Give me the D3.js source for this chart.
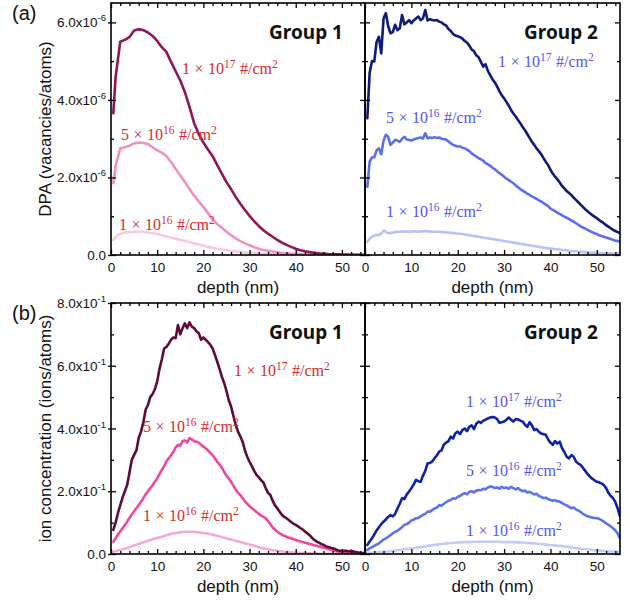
<!DOCTYPE html>
<html><head><meta charset="utf-8">
<script src="https://cdn.jsdelivr.net/npm/d3@7"></script>
<style>body{margin:0;background:#fff}</style>
</head><body>
<svg id="chart" width="630" height="603"></svg>
<script>
// ---------- DATA ----------
// depth grid (nm) for group 1 DPA curves
const depthA = [0.5,1,2,3,4,5,6,7,8,9,10,11,12,13,14,15,16,17,18,19,20,21,22,23,24,25,26,27,28,29,30,
  31,32,33,34,35,36,37,38,39,40,41,42,43,44,45,46,47,48,49,50,51,52,53,54,55];
// depth grid (nm) for the other curves
const depthB = [0.5,1,1.5,2,2.5,3,3.5,4,4.5,5, 5.5,6,6.5,7,7.5,8,8.5,9,9.5,10,
  10.5,11,11.5,12,12.5,13,13.5,14,14.5,15, 15.5,16,16.5,17,17.5,18,18.5,19,19.5,20,
  20.5,21,21.5,22,22.5,23,23.5,24,24.5,25, 25.5,26,26.5,27,27.5,28,28.5,29,29.5,30,
  30.5,31,31.5,32,32.5,33,33.5,34,34.5,35, 35.5,36,36.5,37,37.5,38,38.5,39,39.5,40,
  40.5,41,41.5,42,42.5,43,43.5,44,44.5,45, 45.5,46,46.5,47,47.5,48,48.5,49,49.5,50,
  50.5,51,51.5,52,52.5,53,53.5,54,54.5,55];

// (a) DPA, in units of 1e-6 vacancies/atom
const dpaG1_1e17 = [3.66,4.6,5.5,5.55,5.62,5.79,5.82,5.8,5.74,5.65,5.52,5.36,5.24,4.98,4.74,4.5,4.2,3.82,3.4,3.12,2.9,
  2.72,2.55,2.32,2.1,1.88,1.7,1.5,1.32,1.16,1.01,0.87,0.75,0.64,0.55,0.47,0.39,0.32,0.26,0.21,0.16,
  0.12,0.095,0.075,0.06,0.045,0.035,0.025,0.02,0.015,0.012,0.01,0.008,0.006,0.005,0.004];
const dpaG1_5e16 = [1.85,2.3,2.75,2.78,2.82,2.88,2.9,2.89,2.86,2.78,2.7,2.64,2.55,2.4,2.22,2.05,1.88,1.7,1.53,1.38,1.24,
  1.08,0.92,0.8,0.7,0.6,0.51,0.43,0.36,0.3,0.25,0.2,0.16,0.13,0.11,0.09,0.07,0.055,0.045,0.035,0.028,
  0.022,0.017,0.013,0.01,0.008,0.006,0.005,0.004,0.003,0.003,0.002,0.002,0.002,0.001,0.001];
const dpaG1_1e16 = [0.39,0.47,0.55,0.58,0.59,0.6,0.6,0.6,0.58,0.56,0.54,0.51,0.48,0.45,0.42,0.39,0.36,0.33,0.3,0.27,0.24,
  0.21,0.19,0.16,0.14,0.12,0.105,0.09,0.08,0.068,0.058,0.048,0.04,0.033,0.027,0.022,0.018,0.014,0.011,0.009,0.007,
  0.006,0.005,0.004,0.003,0.003,0.002,0.002,0.002,0.001,0.001,0.001,0.001,0.001,0.001,0.001];

const dpaG2_1e17 = [3.53,4.7,5.0,4.99,5.5,5.63,5.2,6.1,6.24,5.9,
  5.72,5.75,5.94,5.8,5.85,6.19,5.95,6.0,6.06,5.98,
  6.05,6.1,6.15,6.06,6.1,6.32,6.05,6.08,6.06,6.05,
  6.06,6.02,6.0,5.95,5.92,5.83,5.78,5.7,5.66,5.64,
  5.62,5.58,5.52,5.48,5.4,5.3,5.26,5.15,5.1,4.98,
  4.86,4.92,4.75,4.64,4.53,4.45,4.35,4.22,4.12,4.04,
  3.95,3.85,3.74,3.65,3.57,3.48,3.4,3.3,3.22,3.12,
  3.02,2.92,2.84,2.75,2.68,2.6,2.5,2.4,2.32,2.2,
  2.1,2.02,1.95,1.87,1.78,1.72,1.65,1.6,1.55,1.48,
  1.42,1.36,1.3,1.24,1.18,1.13,1.08,1.03,0.99,0.95,
  0.9,0.86,0.82,0.77,0.73,0.69,0.65,0.62,0.59,0.56];
const dpaG2_5e16 = [1.76,2.4,2.52,2.52,2.7,2.75,2.6,2.95,3.1,3.05,
  2.84,2.9,2.97,2.95,2.92,3.0,3.05,2.98,2.97,2.95,
  2.98,3.0,3.02,3.03,3.0,3.14,3.01,3.03,3.02,3.04,
  3.02,3.03,3.0,2.99,2.97,2.93,2.88,2.84,2.82,2.8,
  2.8,2.77,2.75,2.72,2.68,2.62,2.58,2.54,2.5,2.47,
  2.43,2.37,2.34,2.3,2.25,2.21,2.16,2.11,2.07,2.02,
  1.97,1.93,1.89,1.85,1.8,1.75,1.7,1.66,1.62,1.58,
  1.55,1.51,1.48,1.45,1.41,1.38,1.34,1.3,1.26,1.2,
  1.16,1.13,1.09,1.06,1.02,0.99,0.96,0.93,0.89,0.86,
  0.82,0.78,0.74,0.71,0.68,0.65,0.62,0.59,0.56,0.54,
  0.51,0.49,0.47,0.45,0.43,0.41,0.39,0.37,0.36,0.34];
const dpaG2_1e16 = [0.34,0.42,0.47,0.5,0.52,0.52,0.55,0.63,0.6,0.56,
  0.57,0.58,0.59,0.6,0.6,0.61,0.6,0.61,0.6,0.61,
  0.61,0.61,0.6,0.61,0.61,0.62,0.61,0.61,0.6,0.6,
  0.6,0.6,0.59,0.59,0.58,0.58,0.57,0.57,0.56,0.55,
  0.55,0.54,0.53,0.52,0.51,0.5,0.49,0.48,0.47,0.46,
  0.45,0.44,0.43,0.42,0.41,0.4,0.39,0.38,0.37,0.36,
  0.35,0.34,0.33,0.32,0.31,0.3,0.29,0.28,0.27,0.26,
  0.25,0.24,0.23,0.22,0.21,0.2,0.19,0.18,0.17,0.165,
  0.16,0.15,0.145,0.14,0.13,0.125,0.12,0.11,0.105,0.1,
  0.095,0.09,0.085,0.08,0.075,0.07,0.065,0.06,0.058,0.055,
  0.052,0.05,0.048,0.046,0.044,0.042,0.04,0.038,0.036,0.035];

// (b) ion concentration, ions/atom
const ionG1_1e17 = [0.077,0.1,0.13,0.156,0.18,0.2,0.22,0.26,0.3,0.316,
  0.33,0.37,0.39,0.42,0.46,0.475,0.5,0.51,0.525,0.55,
  0.59,0.62,0.655,0.66,0.67,0.683,0.69,0.688,0.73,0.70,
  0.72,0.735,0.72,0.738,0.725,0.72,0.71,0.704,0.683,0.69,
  0.683,0.675,0.667,0.655,0.635,0.613,0.59,0.565,0.545,0.52,
  0.49,0.47,0.44,0.411,0.39,0.375,0.358,0.33,0.31,0.294,
  0.28,0.265,0.252,0.245,0.235,0.228,0.21,0.195,0.188,0.17,
  0.155,0.146,0.135,0.125,0.118,0.114,0.108,0.102,0.097,0.093,
  0.088,0.083,0.078,0.072,0.066,0.06,0.052,0.045,0.04,0.036,
  0.032,0.029,0.025,0.022,0.02,0.018,0.016,0.012,0.01,0.01,
  0.01,0.01,0.008,0.01,0.008,0.006,0.005,0.004,0.003,0.002];
const ionG1_5e16 = [0.039,0.05,0.062,0.072,0.082,0.092,0.103,0.115,0.126,0.136,
  0.146,0.156,0.167,0.178,0.19,0.2,0.21,0.22,0.23,0.242,
  0.255,0.268,0.28,0.295,0.305,0.315,0.325,0.34,0.348,0.345,
  0.36,0.362,0.355,0.369,0.365,0.36,0.358,0.355,0.348,0.342,
  0.337,0.33,0.322,0.315,0.305,0.294,0.285,0.275,0.262,0.25,
  0.241,0.23,0.218,0.205,0.195,0.188,0.178,0.168,0.16,0.152,
  0.146,0.14,0.134,0.128,0.122,0.118,0.114,0.105,0.095,0.085,
  0.078,0.071,0.066,0.062,0.058,0.055,0.052,0.05,0.047,0.045,
  0.042,0.04,0.038,0.036,0.034,0.032,0.03,0.028,0.026,0.024,
  0.022,0.02,0.018,0.016,0.014,0.012,0.01,0.008,0.007,0.006,
  0.005,0.005,0.004,0.004,0.003,0.003,0.003,0.002,0.002,0.002];
const ionG1_1e16 = [0.007,0.009,0.011,0.013,0.015,0.017,0.019,0.022,0.025,0.027,
  0.03,0.032,0.035,0.037,0.04,0.042,0.045,0.047,0.049,0.051,
  0.053,0.055,0.057,0.06,0.062,0.064,0.066,0.067,0.068,0.069,
  0.07,0.071,0.071,0.071,0.071,0.07,0.07,0.069,0.068,0.067,
  0.066,0.065,0.063,0.062,0.06,0.058,0.056,0.054,0.052,0.05,
  0.048,0.046,0.044,0.042,0.04,0.038,0.036,0.034,0.032,0.03,
  0.028,0.026,0.024,0.022,0.02,0.018,0.017,0.015,0.014,0.012,
  0.011,0.01,0.009,0.008,0.007,0.006,0.006,0.005,0.005,0.004,
  0.004,0.003,0.003,0.003,0.002,0.002,0.002,0.002,0.002,0.001,
  0.001,0.001,0.001,0.001,0.001,0.001,0.001,0.001,0.001,0.001,
  0.001,0.001,0.001,0.001,0.001,0.001,0.001,0.001,0.001,0.001];

const ionG2_1e17 = [0.029,0.04,0.05,0.062,0.075,0.085,0.095,0.103,0.11,0.118,
  0.124,0.12,0.128,0.145,0.16,0.178,0.175,0.19,0.199,0.21,
  0.222,0.236,0.232,0.23,0.25,0.265,0.289,0.29,0.295,0.305,
  0.315,0.326,0.33,0.348,0.355,0.36,0.374,0.368,0.385,0.39,
  0.382,0.395,0.40,0.392,0.405,0.41,0.398,0.415,0.422,0.418,
  0.425,0.428,0.432,0.435,0.437,0.435,0.43,0.418,0.42,0.422,
  0.428,0.435,0.428,0.422,0.43,0.429,0.425,0.422,0.412,0.405,
  0.42,0.41,0.395,0.398,0.39,0.384,0.382,0.38,0.365,0.355,
  0.348,0.36,0.352,0.358,0.337,0.325,0.31,0.305,0.315,0.31,
  0.295,0.288,0.284,0.275,0.265,0.255,0.247,0.24,0.235,0.23,
  0.228,0.225,0.22,0.21,0.195,0.185,0.178,0.165,0.145,0.12];
const ionG2_5e16 = [0.013,0.018,0.022,0.026,0.03,0.034,0.04,0.046,0.05,0.055,
  0.06,0.066,0.071,0.074,0.08,0.086,0.093,0.095,0.1,0.107,
  0.11,0.114,0.115,0.12,0.125,0.128,0.135,0.135,0.14,0.145,
  0.148,0.156,0.154,0.16,0.165,0.17,0.172,0.178,0.176,0.182,
  0.185,0.19,0.194,0.19,0.198,0.2,0.196,0.202,0.204,0.203,
  0.208,0.206,0.212,0.215,0.214,0.21,0.212,0.208,0.214,0.21,
  0.212,0.208,0.214,0.21,0.206,0.21,0.204,0.2,0.202,0.196,
  0.198,0.194,0.19,0.192,0.185,0.182,0.178,0.18,0.175,0.172,
  0.17,0.172,0.168,0.167,0.162,0.158,0.155,0.15,0.146,0.148,
  0.142,0.138,0.134,0.128,0.124,0.12,0.118,0.116,0.115,0.114,
  0.112,0.108,0.103,0.098,0.093,0.088,0.082,0.075,0.065,0.05];
const ionG2_1e16 = [0.003,0.004,0.004,0.005,0.005,0.006,0.006,0.007,0.008,0.008,
  0.009,0.01,0.011,0.012,0.013,0.014,0.015,0.016,0.017,0.018,
  0.019,0.02,0.021,0.022,0.023,0.024,0.026,0.027,0.028,0.029,
  0.03,0.031,0.032,0.033,0.034,0.034,0.035,0.035,0.036,0.037,
  0.037,0.037,0.038,0.038,0.038,0.038,0.039,0.039,0.039,0.039,
  0.039,0.039,0.039,0.039,0.039,0.039,0.039,0.039,0.038,0.038,
  0.038,0.038,0.038,0.038,0.037,0.037,0.037,0.036,0.036,0.035,
  0.035,0.034,0.034,0.033,0.032,0.032,0.031,0.03,0.029,0.028,
  0.028,0.027,0.026,0.026,0.025,0.024,0.023,0.022,0.021,0.02,
  0.019,0.018,0.017,0.016,0.016,0.015,0.014,0.013,0.012,0.012,
  0.011,0.01,0.01,0.009,0.009,0.008,0.008,0.007,0.007,0.007];

// ticks and labels
const xTicks = [0,10,20,30,40,50];
const xMinorTicks = [2,4,6,8,12,14,16,18,22,24,26,28,32,34,36,38,42,44,46,48,52,54];
const dpaTicks = [0,2,4,6];
const dpaMinorTicks = [1,3,5];
const dpaTickMant = ["0.0","2.0x10","4.0x10","6.0x10"];
const dpaTickExp = ["","-6","-6","-6"];
const ionTicks = [0,0.2,0.4,0.6,0.8];
const ionMinorTicks = [0.1,0.3,0.5,0.7];
const ionTickMant = ["0.0","2.0x10","4.0x10","6.0x10","8.0x10"];
const ionTickExp = ["","-1","-1","-1","-1"];
const doseMant = ["1","5","1"];
const doseExp = ["17","16","16"];
const groupNames = ["Group 1","Group 2"];
const panelTags = ["(a)","(b)"];
const yTitles = ["DPA (vacancies/atoms)","ion concentration (ions/atoms)"];
const xTitle = "depth (nm)";

// ---------- LAYOUT ----------
const svg = d3.select("#chart");
const LX = [111, 365], RX = [365, 620];
const TOPY = [3, 255], BOTY = [303, 554];
const red = "#d82a2a", blue = "#5555f0";

const panels = [
  {xr:LX, yr:TOPY, dom:[0,6.5], ticks:dpaTicks, minor:dpaMinorTicks, mant:dpaTickMant, exp:dpaTickExp, showY:true,
   group:0, row:0, labCol:red,
   series:[{d:depthA,v:dpaG1_1e16,c:"#f9c9e0"},{d:depthA,v:dpaG1_5e16,c:"#f290c3"},{d:depthA,v:dpaG1_1e17,c:"#8e1659"}],
   labels:[[182,74],[121,140],[119,230]]},
  {xr:RX, yr:TOPY, dom:[0,6.5], ticks:dpaTicks, minor:dpaMinorTicks, showY:false,
   group:1, row:0, labCol:blue,
   series:[{d:depthB,v:dpaG2_1e16,c:"#b9c2f7"},{d:depthB,v:dpaG2_5e16,c:"#5a6ff0"},{d:depthB,v:dpaG2_1e17,c:"#0e1a7c"}],
   labels:[[498,67],[386,123],[386,217]]},
  {xr:LX, yr:BOTY, dom:[0,0.8], ticks:ionTicks, minor:ionMinorTicks, mant:ionTickMant, exp:ionTickExp, showY:true,
   group:0, row:1, labCol:red,
   series:[{d:depthB,v:ionG1_1e16,c:"#f6a9d2"},{d:depthB,v:ionG1_5e16,c:"#f2469f"},{d:depthB,v:ionG1_1e17,c:"#5e0b3b"}],
   labels:[[234,376],[143,432],[143,521]]},
  {xr:RX, yr:BOTY, dom:[0,0.8], ticks:ionTicks, minor:ionMinorTicks, showY:false,
   group:1, row:1, labCol:blue,
   series:[{d:depthB,v:ionG2_1e16,c:"#c3cbf7"},{d:depthB,v:ionG2_5e16,c:"#5b74ef"},{d:depthB,v:ionG2_1e17,c:"#0c22aa"}],
   labels:[[466,407],[466,476],[466,536]]}
];

const sans = "'Liberation Sans', Arial, sans-serif";

function doseLabel(g, x, y, mant, exp, color){
  const t = g.append("text").attr("x",x).attr("y",y).attr("fill",color)
    .style("font-family","'Liberation Serif', 'Times New Roman', serif").style("font-size","16px");
  t.append("tspan").text(mant);
  t.append("tspan").attr("dx",4.5).text("\u00d7");
  t.append("tspan").attr("dx",4.5).text("10");
  t.append("tspan").attr("dy",-6.5).style("font-size","11.5px").text(exp);
  t.append("tspan").attr("dy",6.5).attr("dx",4.5).text("#/cm");
  t.append("tspan").attr("dy",-6.5).style("font-size","11.5px").text("2");
}

panels.forEach((p,pi) => {
  const x = d3.scaleLinear().domain([0,55]).range(p.xr);
  const y = d3.scaleLinear().domain(p.dom).range([p.yr[1], p.yr[0]]);
  const g = svg.append("g");
  const clipId = "clip"+pi;
  svg.append("defs").append("clipPath").attr("id",clipId).append("rect")
    .attr("x",p.xr[0]).attr("y",p.yr[0]).attr("width",p.xr[1]-p.xr[0]).attr("height",p.yr[1]-p.yr[0]);

  // lines
  const line = d3.line().x(d=>x(d[0])).y(d=>y(d[1]));
  const lg = g.append("g").attr("clip-path",`url(#${clipId})`);
  p.series.forEach(s => {
    lg.append("path").datum(s.d.map((dd,i)=>[dd,s.v[i]]))
      .attr("d",line).attr("fill","none").attr("stroke",s.c)
      .attr("stroke-width",2.6).attr("stroke-linejoin","round").attr("stroke-linecap","round");
  });

  // axes: ticks inward on all four sides
  const bottom = g.append("g").attr("transform",`translate(0,${p.yr[1]})`);
  bottom.call(d3.axisBottom(x).tickValues(xTicks).tickSizeInner(-5).tickSizeOuter(0).tickPadding(5).tickFormat(d3.format("d")));
  bottom.append("g").call(d3.axisBottom(x).tickValues(xMinorTicks).tickSizeInner(-3).tickSizeOuter(0).tickFormat(""));
  const top = g.append("g").attr("transform",`translate(0,${p.yr[0]})`);
  top.call(d3.axisTop(x).tickValues(xTicks).tickSizeInner(-5).tickSizeOuter(0).tickFormat(""));
  top.append("g").call(d3.axisTop(x).tickValues(xMinorTicks).tickSizeInner(-3).tickSizeOuter(0).tickFormat(""));
  const left = g.append("g").attr("transform",`translate(${p.xr[0]},0)`);
  left.call(d3.axisLeft(y).tickValues(p.ticks).tickSizeInner(-5).tickSizeOuter(0).tickFormat(""));
  left.append("g").call(d3.axisLeft(y).tickValues(p.minor).tickSizeInner(-3).tickSizeOuter(0).tickFormat(""));
  const right = g.append("g").attr("transform",`translate(${p.xr[1]},0)`);
  right.call(d3.axisRight(y).tickValues(p.ticks).tickSizeInner(-5).tickSizeOuter(0).tickFormat(""));
  right.append("g").call(d3.axisRight(y).tickValues(p.minor).tickSizeInner(-3).tickSizeOuter(0).tickFormat(""));
  g.selectAll(".domain").remove();
  g.selectAll(".tick line").attr("stroke","#000").attr("stroke-width",1.3);
  bottom.selectAll("text").style("font-family",sans).style("font-size","13.5px").attr("fill","#111")
    .attr("dy","0").attr("y",17);

  if (p.showY) {
    // outward part of major ticks on left axis
    const lo = g.append("g").attr("transform",`translate(${p.xr[0]},0)`);
    lo.call(d3.axisLeft(y).tickValues(p.ticks).tickSizeInner(3).tickSizeOuter(0).tickFormat(""));
    lo.select(".domain").remove();
    lo.selectAll(".tick line").attr("stroke","#000").attr("stroke-width",1.3);
    p.ticks.forEach((tv,i) => {
      const t = g.append("text").attr("x",p.xr[0]-5).attr("y",y(tv)+5).attr("text-anchor","end")
        .style("font-family",sans).style("font-size","13.5px").attr("fill","#111");
      t.append("tspan").text(p.mant[i]);
      if (p.exp[i]) t.append("tspan").attr("dy",-6).style("font-size","9.5px").text(p.exp[i]);
    });
  }

  // frame
  g.append("rect").attr("x",p.xr[0]).attr("y",p.yr[0]).attr("width",p.xr[1]-p.xr[0]).attr("height",p.yr[1]-p.yr[0])
    .attr("fill","none").attr("stroke","#000").attr("stroke-width",1.6);

  // group name
  g.append("text").attr("x",p.xr[1]-22).attr("y",p.yr[0]+36).attr("text-anchor","end")
    .style("font-family","'Noto Sans', 'Open Sans', sans-serif").style("font-weight","bold").style("font-size","19px")
    .attr("fill","#111").text(groupNames[p.group]);

  // dose labels
  p.labels.forEach((pos,i) => doseLabel(g, pos[0], pos[1], doseMant[i], doseExp[i], p.labCol));

  // x title
  g.append("text").attr("x",(p.xr[0]+p.xr[1])/2).attr("y",p.yr[1]+37.5).attr("text-anchor","middle")
    .style("font-family",sans).style("font-size","17px").attr("fill","#111").text(xTitle);
});

// y titles and panel tags
[TOPY, BOTY].forEach((yr,i) => {
  svg.append("text").attr("transform",`translate(51,${(yr[0]+yr[1])/2}) rotate(-90)`).attr("text-anchor","middle")
    .style("font-family",sans).style("font-size","17px").attr("fill","#111").text(yTitles[i]);
  svg.append("text").attr("x",12).attr("y",yr[0]+17).style("font-family",sans).style("font-size","20px")
    .attr("fill","#111").text(panelTags[i]);
});
</script>
</body></html>
